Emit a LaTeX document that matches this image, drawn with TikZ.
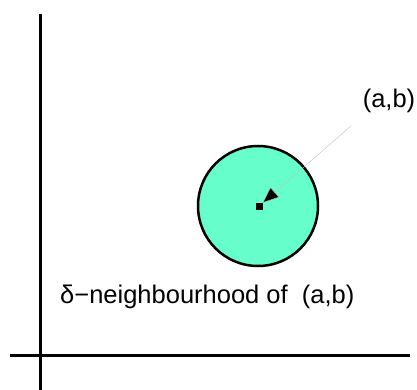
\documentclass[tikz,border=0pt]{standalone}
\usepackage{fontspec}
\setmainfont{Liberation Sans}
\usetikzlibrary{positioning,arrows.meta}
\definecolor{nbhdgreen}{HTML}{66FFCC}

\begin{document}
\begin{tikzpicture}[x=1pt,y=-1pt,
    axis/.style={line width=3pt},
    disc/.style={circle, draw, line width=2.5pt, fill=nbhdgreen, minimum size=120pt, inner sep=0pt},
    point/.style={rectangle, fill=black, minimum size=7pt, inner sep=0pt},
    pointer/.style={-{Triangle[length=16pt,width=13pt,fill=black]}, draw=black!25, line width=0.4pt},
    lbl/.style={font=\fontsize{25.5}{28}\selectfont, inner sep=0pt},
]
\useasboundingbox (0,0) rectangle (417,390);

% axes
\coordinate (ytop) at (40,14);
\coordinate (ybot) at (40,390);
\coordinate (xleft) at (10,355);
\coordinate (xright) at (410,355);
\draw[axis] (ytop) -- (ybot);
\draw[axis] (xleft) -- (xright);

% neighbourhood
\node[disc] (nbhd) at (258,206) {};
\node[point] (pt) at (259,206) {};
\node[lbl] (ab) at (389,101) {(a,b)};
\coordinate (tail) at (351,126);
\draw[pointer] (tail) -- (pt);

\node[lbl, anchor=west] (cap) at (60,297) {δ−neighbourhood of\ \ (a,b)};
\end{tikzpicture}
\end{document}
